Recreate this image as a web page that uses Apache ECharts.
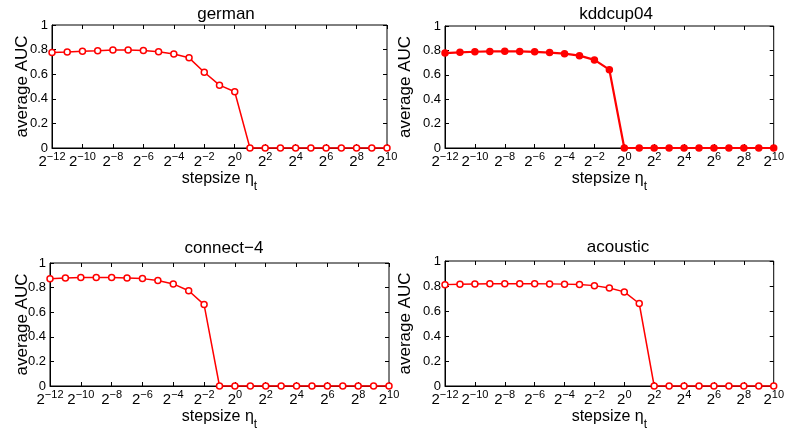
<!DOCTYPE html>
<html><head><meta charset="utf-8">
<script src="https://cdn.jsdelivr.net/npm/echarts@6/dist/echarts.min.js"></script>
<style>html,body{margin:0;padding:0;background:#fff}#c{width:787px;height:432px}</style>
</head><body><div id="c"></div>
<script>
var exponents = [-12,-11,-10,-9,-8,-7,-6,-5,-4,-3,-2,-1,0,1,2,3,4,5,6,7,8,9,10];
var titles = ['german','kddcup04','connect\u22124','acoustic'];
var german   = [0.777,0.781,0.787,0.791,0.797,0.797,0.792,0.783,0.765,0.733,0.616,0.511,0.457,0,0,0,0,0,0,0,0,0,0];
var kddcup04 = [0.778,0.784,0.789,0.792,0.793,0.792,0.788,0.782,0.773,0.757,0.722,0.642,0,0,0,0,0,0,0,0,0,0,0];
var connect4 = [0.872,0.879,0.882,0.883,0.882,0.879,0.873,0.857,0.830,0.774,0.662,0,0,0,0,0,0,0,0,0,0,0,0];
var acoustic = [0.811,0.814,0.816,0.818,0.818,0.818,0.818,0.817,0.815,0.812,0.803,0.784,0.753,0.660,0,0,0,0,0,0,0,0,0];
var yTicks = [0,0.2,0.4,0.6,0.8,1];

var seriesData = [german,kddcup04,connect4,acoustic];
var filled = [false,true,false,false];
var grids = [
  {left:52,top:25,width:335,height:123},
  {left:445,top:26,width:337,height:122},
  {left:50,top:263,width:339,height:124},
  {left:445,top:261,width:338,height:128}
];
var yNameGap = [21,31,19,31];
var titlePos = [[221,1],[611,1],[219,235],[613,234]];
var font = 'Liberation Sans, Arial, Helvetica, sans-serif';

var option = {
  backgroundColor:'#fff',
  animation:false,
  title:[], grid:[], xAxis:[], yAxis:[], series:[]
};
function supLabel(v){
  var s = v < 0 ? '\u2212' + Math.abs(v) : String(v);
  return '{b|2}{s|' + s + '}';
}
for (var i=0;i<4;i++){
  var g = grids[i];
  option.grid.push({left:g.left,top:g.top,width:g.width,height:g.height,show:true,borderColor:'#000',borderWidth:1,backgroundColor:'transparent'});
  option.title.push({text:titles[i],left:titlePos[i][0],top:titlePos[i][1],textAlign:'center',
    textStyle:{fontFamily:font,fontSize:17,fontWeight:'normal',color:'#000'}});
  var axLine = {show:true,onZero:false,lineStyle:{color:'#000',width:1}};
  option.xAxis.push({type:'value',gridIndex:i,min:-12,max:10,interval:2,
    axisLine:axLine,axisTick:{show:true,inside:true,length:4,lineStyle:{color:'#000'}},splitLine:{show:false},
    axisLabel:{margin:3,formatter:supLabel,color:'#000',
      rich:{b:{fontFamily:font,fontSize:15,color:'#000',verticalAlign:'bottom',lineHeight:18},
            s:{fontFamily:font,fontSize:11,color:'#000',verticalAlign:'top',lineHeight:18}}},
    name:'{n|stepsize \u03b7}{t|t}',nameLocation:'middle',nameGap:23,nameMoveOverlap:false,
    nameTextStyle:{rich:{n:{fontFamily:font,fontSize:16,color:'#000',verticalAlign:'top',lineHeight:22},
                         t:{fontFamily:font,fontSize:12,color:'#000',verticalAlign:'bottom',lineHeight:22}}}
  });
  option.xAxis.push({type:'value',gridIndex:i,min:-12,max:10,interval:2,position:'top',
    axisLine:{show:false,onZero:false},axisTick:{show:true,inside:true,length:4,lineStyle:{color:'#000'}},
    axisLabel:{show:false},splitLine:{show:false}});
  option.yAxis.push({type:'value',gridIndex:i,min:0,max:1,interval:0.2,
    axisLine:axLine,axisTick:{show:true,inside:true,length:4,lineStyle:{color:'#000'}},splitLine:{show:false},
    axisLabel:{margin:4,color:'#000',fontFamily:font,fontSize:13,formatter:function(v){return String(parseFloat(v.toFixed(1)));}},
    name:'average AUC',nameLocation:'middle',nameGap:yNameGap[i],nameMoveOverlap:false,
    nameTextStyle:{fontFamily:font,fontSize:17,color:'#000'}
  });
  option.yAxis.push({type:'value',gridIndex:i,min:0,max:1,interval:0.2,position:'right',
    axisLine:{show:false,onZero:false},axisTick:{show:true,inside:true,length:4,lineStyle:{color:'#000'}},
    axisLabel:{show:false},splitLine:{show:false}});
  var d = exponents.map(function(e,k){return [e, seriesData[i][k]];});
  option.series.push({type:'line',xAxisIndex:2*i,yAxisIndex:2*i,data:d,
    symbol:'circle',symbolSize:6,showSymbol:true,
    lineStyle:{color:'#ff0000',width:filled[i]?2.2:1.5},
    itemStyle:{color:filled[i]?'#ff0000':'#fff',borderColor:'#ff0000',borderWidth:1.5},
    clip:false,z:3});
}
var chart = echarts.init(document.getElementById('c'),null,{renderer:'canvas'});
chart.setOption(option);
</script></body></html>
